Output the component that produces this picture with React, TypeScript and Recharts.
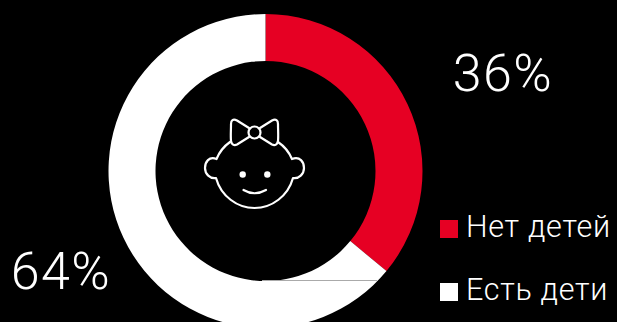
import { Legend, Pie, PieChart, Cell } from 'recharts';

const categories = ['Нет детей', 'Есть дети'];
const shares = [36, 64];
const colors = ['#e60023', '#ffffff'];

const tableData = categories.map((name, i) => ({ name, value: shares[i] }));

const FONT = 'Roboto, sans-serif';
const labelSpots = [
  { x: 503, y: 91 },
  { x: 61, y: 289 },
];

function ShareLabel({ index, value }: any) {
  const spot = labelSpots[index];
  return (
    <text
      x={spot.x}
      y={spot.y}
      textAnchor="middle"
      fill="#fff"
      fontFamily={FONT}
      fontWeight={300}
      fontSize={52}
      letterSpacing={1.5}
    >
      {value}%
    </text>
  );
}

function LegendList({ payload }: any) {
  return (
    <div style={{ fontFamily: FONT, fontWeight: 300, color: '#fff', fontSize: 30.5, letterSpacing: 0.7 }}>
      {payload.map((entry: any) => (
        <div
          key={entry.value}
          style={{ display: 'flex', alignItems: 'center', height: 36, marginBottom: 27 }}
        >
          <span
            style={{
              width: 18,
              height: 18,
              marginRight: 8,
              marginTop: 6,
              background: entry.color,
              display: 'inline-block',
            }}
          />
          {entry.value}
        </div>
      ))}
    </div>
  );
}

// baby face with a bow, sits a little left of the ring centre
function BabyIcon() {
  return (
    <g fill="none" stroke="#fff" strokeWidth={2.2} strokeLinecap="round" strokeLinejoin="round">
      <path d="M230 142 A39 39 0 0 0 216.5 159 C209 156 205 162 205 168 C205 174 210 179 216 178 C221 196 237 208 254.5 208 C272 208 288 196 293 178 C299 179 304 174 304 168 C304 162 300 156 292 159 A39 39 0 0 0 278 142" />
      <circle cx={254.5} cy={132.5} r={6} />
      <path d="M249 128 L237 120.5 C233 118.5 231 120.5 231 124 C231 130 230.5 136 231 141 C231.5 144.5 234 146 237 144.5 L249 137" />
      <path d="M260 128 L272 120.5 C276 118.5 278 120.5 278 124 C278 130 278.5 136 278 141 C277.5 144.5 275 146 272 144.5 L260 137" />
      <path d="M243.5 190 Q254.5 196.5 266 190" />
      <circle cx={242.7} cy={174.5} r={3.2} fill="#fff" stroke="none" />
      <circle cx={267.3} cy={174.5} r={3.2} fill="#fff" stroke="none" />
    </g>
  );
}

export default function App() {
  return (
    <div
      style={{
        position: 'fixed',
        left: 0,
        top: 0,
        width: 617,
        height: 322,
        background: '#000',
        overflow: 'hidden',
      }}
    >
      <PieChart width={617} height={322} margin={{ top: 0, right: 0, bottom: 0, left: 0 }}>
        <Pie
          data={tableData}
          dataKey="value"
          nameKey="name"
          cx={265.5}
          cy={171}
          innerRadius={110}
          outerRadius={157}
          startAngle={90}
          endAngle={-270}
          stroke="none"
          label={ShareLabel}
          labelLine={false}
          isAnimationActive={false}
        >
          {tableData.map((d, i) => (
            <Cell key={d.name} fill={colors[i]} />
          ))}
        </Pie>
        <Legend
          layout="vertical"
          content={LegendList}
          itemSorter={null}
          wrapperStyle={{ left: 440, top: 208, width: 177 }}
        />
        <BabyIcon />
      </PieChart>
      {/* hairline across the white slice */}
      <div
        style={{
          position: 'absolute',
          left: 262,
          top: 280,
          width: 115,
          height: 1,
          background: '#aaa',
        }}
      />
    </div>
  );
}
